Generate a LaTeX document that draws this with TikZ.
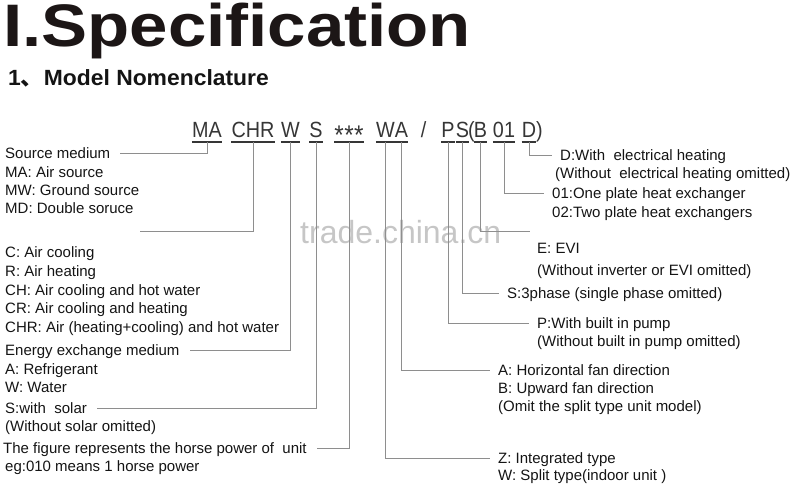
\documentclass[tikz,border=0pt]{standalone}
\usepackage{fontspec}
\setmainfont{Liberation Sans}
\newfontfamily\cjkfont{Noto Sans CJK SC}
\usetikzlibrary{positioning}

\definecolor{inkc}{HTML}{141414}
\definecolor{titlec}{HTML}{1C1616}
\definecolor{leadc}{HTML}{8E8E8E}
\definecolor{barc}{HTML}{363636}
\definecolor{markc}{HTML}{C6C6C6}

\tikzset{
  lbl/.style={anchor=base west, inner xsep=10pt, inner ysep=0pt, text height=11pt, text depth=1pt, font=\fontsize{15}{17}\selectfont, text=inkc},
  rlbl/.style={lbl, inner xsep=8pt},
  code/.style={anchor=base, inner sep=0pt, font=\fontsize{22}{24}\selectfont, text=barc, xscale=0.9},
  lead/.style={draw=leadc, line width=0.8pt},
  bar/.style={draw=barc, line width=1.8pt},
  wmark/.style={anchor=base west, inner sep=0pt, font=\fontsize{32}{34}\selectfont, text=markc},
}

\begin{document}
\begin{tikzpicture}[x=1pt,y=-1pt]
\useasboundingbox (0,0) rectangle (800,484);
\node[anchor=base west, inner sep=0pt, font=\fontsize{60}{60}\selectfont\bfseries, text=titlec, xscale=1.15] (title) at (3,47) {I.Specification};
\node[anchor=base west, inner sep=0pt, font=\fontsize{22}{24}\selectfont\bfseries, text=inkc, xscale=1.04] (sub) at (8,86) {1{\cjkfont 、}Model Nomenclature};
\node[wmark] (wm) at (300,243) {trade.china.cn};

\node[code] (ma) at (207,138) {MA};
\node[code] (chr) at (253,138) {CHR};
\node[code] (w) at (290.5,138) {W};
\node[code] (s) at (316,138) {S};
\node[code] (hp) at (349,138) {\raisebox{-6pt}{\fontsize{27}{27}\selectfont *\hspace{0.5pt}*\hspace{0.5pt}*}};
\node[code] (wz) at (385.5,138) {W};
\node[code] (wa) at (401.5,138) {A};
\node[code] (slash) at (423.5,138) {/};
\node[code] (p) at (448,138) {P};
\node[code] (s3) at (462.5,138) {S};
\node[code] (lpar) at (471.5,138) {(};
\node[code] (b) at (480.5,138) {B};
\node[code] (n) at (504,138) {01};
\node[code] (d) at (529,138) {D};
\node[code] (rpar) at (539.5,138) {)};
\foreach \t in {ma,chr,w,s,hp,wz,wa,p,s3,b,n,d} {
  \draw[bar] ([yshift=-4pt]\t.base west) -- ([yshift=-4pt]\t.base east);
  \coordinate (\t-u) at ([yshift=-4pt]\t.base);
}

\node[lbl] (srcmed) at (-5,158) {Source medium};
\node[lbl] (src1) at (-5,177) {MA: Air source};
\node[lbl] (src2) at (-5,195) {MW: Ground source};
\node[lbl] (src3) at (-5,213) {MD: Double soruce};
\coordinate (fnend) at (140,231);
\node[lbl] (fn1) at (-5,257) {C: Air cooling};
\node[lbl] (fn2) at (-5,276) {R: Air heating};
\node[lbl] (fn3) at (-5,295) {CH: Air cooling and hot water};
\node[lbl] (fn4) at (-5,313) {CR: Air cooling and heating};
\node[lbl] (fn5) at (-5,332) {CHR: Air (heating+cooling) and hot water};
\node[lbl] (energy) at (-5,355) {Energy exchange medium};
\node[lbl] (en1) at (-5,374) {A: Refrigerant};
\node[lbl] (en2) at (-5,392) {W: Water};
\node[lbl] (solar) at (-5,413) {S:with\ \ solar};
\node[lbl] (solar2) at (-5,431) {(Without solar omitted)};
\node[lbl] (hpower) at (-7,453) {The figure represents the horse power of\ \ unit};
\node[lbl] (hpower2) at (-5,471) {eg:010 means 1 horse power};

\node[rlbl] (dheat) at (552,160) {D:With\ \ electrical heating};
\node[rlbl] (dheat2) at (547,178) {(Without\ \ electrical heating omitted)};
\node[rlbl] (plate1) at (544,198) {01:One plate heat exchanger};
\node[rlbl] (plate2) at (544,217) {02:Two plate heat exchangers};
\coordinate (invend) at (530,231);
\node[rlbl] (evi) at (529,253) {E: EVI};
\node[rlbl] (evi2) at (529,275) {(Without inverter or EVI omitted)};
\node[rlbl] (phase) at (499,298) {S:3phase (single phase omitted)};
\node[rlbl] (pump) at (529,328) {P:With built in pump};
\node[rlbl] (pump2) at (529,346) {(Without built in pump omitted)};
\node[rlbl] (horiz) at (490,375) {A: Horizontal fan direction};
\node[rlbl] (upward) at (490,393) {B: Upward fan direction};
\node[rlbl] (omit) at (490,411) {(Omit the split type unit model)};
\node[rlbl] (integ) at (490,463) {Z: Integrated type};
\node[rlbl] (split) at (490,480) {W: Split type(indoor unit )};

\draw[lead] (ma-u) |- (srcmed.east);
\draw[lead] (chr-u) |- (fnend);
\draw[lead] (w-u) |- (energy.east);
\draw[lead] (s-u) |- (solar.east);
\draw[lead] (hp-u) |- (hpower.east);
\draw[lead] (wz-u) |- (integ.west);
\draw[lead] (wa-u) |- (horiz.west);
\draw[lead] (p-u) |- (pump.west);
\draw[lead] (s3-u) |- (phase.west);
\draw[lead] (b-u) |- (invend);
\draw[lead] (n-u) |- (plate1.west);
\draw[lead] (d-u) |- (dheat.west);
\end{tikzpicture}
\end{document}
